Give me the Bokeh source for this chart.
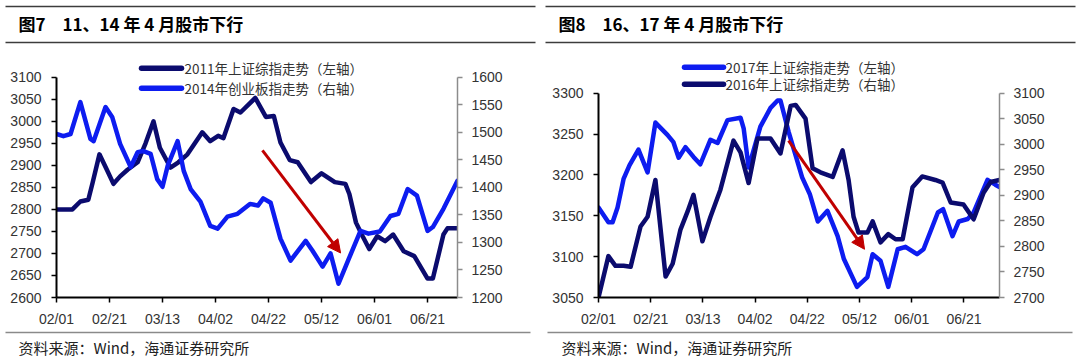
from bokeh.plotting import figure
from bokeh.models import Range1d, LinearAxis, FixedTicker, Arrow, NormalHead
from bokeh.layouts import row, column
from bokeh.embed import file_html
from bokeh.resources import INLINE
from bokeh.core.properties import value

# ---------------- data ----------------
tick_days = [0, 20, 40, 60, 80, 100, 120, 140]
tick_labels = ["02/01", "02/21", "03/13", "04/02", "04/22", "05/12", "06/01", "06/21"]

# Figure 7 : 2011 SSE composite (left axis), 2014 ChiNext (right axis); x = days since 02/01
sh2011_day = [0, 4, 6, 9, 12, 13.6, 16.2, 19, 21.5, 24, 26.8, 30.6, 33.6, 36.6, 39, 43, 46, 49.4, 55, 58,
              61, 63, 66.8, 69.4, 75, 79, 82, 84.5, 88, 91, 96, 100, 105, 109, 110.5, 113, 115.5, 118,
              121, 124, 127, 131, 135, 140, 142, 146, 147.5, 151.3]
sh2011_val = [2800, 2800, 2800, 2818, 2822, 2860, 2925, 2890, 2858, 2875, 2890, 2907, 2950, 3000, 2940, 2895,
              2907, 2925, 2975, 2955, 2967, 2962, 3028, 3020, 3053, 3010, 3012, 2952, 2912, 2907, 2862, 2882,
              2862, 2858, 2835, 2770, 2739, 2710, 2739, 2728, 2743, 2705, 2694, 2643, 2643, 2743, 2757, 2757]
cyb2014_day = [0, 2.6, 5.3, 9, 12.8, 14, 18.5, 21, 24, 28, 30.6, 32.8, 35.5, 38, 40, 42, 45.7, 48, 50.6,
               54.3, 58, 60.8, 64.5, 68.3, 73, 76, 78, 80.8, 84.5, 88.3, 94, 96.6, 100.4, 103.4, 106.4, 110,
               114.7, 117.7, 122, 126, 129, 132.5, 136, 140, 142, 146, 151.3]
cyb2014_val = [1497, 1493, 1497, 1555, 1488, 1484, 1546, 1528, 1479, 1437, 1464, 1466, 1461, 1415, 1401,
               1440, 1484, 1430, 1397, 1374, 1330, 1325, 1347, 1352, 1370, 1367, 1380, 1372, 1307, 1267,
               1303, 1285, 1256, 1280, 1225, 1267, 1321, 1316, 1320, 1348, 1352, 1397, 1385, 1321, 1328,
               1361, 1412]

# Figure 8 : 2017 SSE composite (left axis), 2016 SSE composite (right axis)
sh2017_day = [0, 3.8, 5.4, 7.3, 9.6, 11.9, 15.3, 18.8, 21.8, 26.4, 28.7, 30.7, 33.3, 36.4, 39, 42.9, 45.6,
              49.4, 54.4, 55.6, 57.5, 62, 65.9, 68.6, 69.7, 72.8, 78, 81, 84, 87.7, 91.6, 94, 99, 103, 105,
              108, 111, 114.6, 117.6, 122, 124.5, 130, 132, 135.6, 138, 141.4, 143.7, 149, 152, 153.6]
sh2017_val = [3160, 3142, 3142, 3160, 3195, 3212, 3231, 3203, 3264, 3249, 3240, 3221, 3234, 3222, 3213,
              3243, 3239, 3267, 3270, 3257, 3209, 3259, 3282, 3291, 3291, 3253, 3197, 3176, 3143, 3156,
              3125, 3097, 3063, 3075, 3103, 3095, 3063, 3109, 3112, 3103, 3109, 3154, 3158, 3125, 3143,
              3146, 3154, 3194, 3188, 3185]
sh2016_day = [0, 3.8, 6.5, 9.6, 12.3, 16.1, 18.8, 21.8, 25.7, 28.4, 31.4, 34.1, 36.4, 39.8, 42.9, 46.7,
              51.7, 54.4, 57.5, 60.9, 65.9, 69.7, 73.6, 75.5, 79.3, 82, 85, 89.7, 93.5, 95.8, 97.7, 99.6,
              103, 105, 108, 111, 113.8, 116.5, 120.3, 124, 129, 131.8, 134.9, 139.8, 143.7, 147.5, 150.2,
              153.6]
sh2016_val = [2700, 2781, 2762, 2762, 2760, 2839, 2858, 2930, 2741, 2766, 2833, 2868, 2901, 2810, 2858,
              2911, 3007, 2984, 2924, 3011, 3011, 2982, 3075, 3077, 3050, 2953, 2945, 2936, 2988, 2930,
              2858, 2827, 2827, 2849, 2808, 2824, 2814, 2814, 2916, 2937, 2930, 2925, 2886, 2882, 2853,
              2905, 2926, 2930]

# trend arrows (data coords on the left axis)
arrow7 = [77.7, 2934, 107.2, 2701]
arrow8 = [72.8, 3242, 101.9, 3109]

titles = ["图7\u300011、14 年 4 月股市下行", "图8\u300016、17 年 4 月股市下行"]
source_text = "资料来源：Wind，海通证券研究所"
legend7 = ["2011年上证综指走势（左轴）", "2014年创业板指走势（右轴）"]
legend8 = ["2017年上证综指走势（左轴）", "2016年上证综指走势（右轴）"]

NAVY = "#0b0b6e"
BLUE = "#0d1cf0"
RED = "#c00000"
CJK = "Noto Sans CJK SC"
LAT = "Liberation Sans"

HEAD_H = 48      # header strip height (page px)
FOOT_H = 30      # footer strip height
PAGE_H = 359
CHART_H = PAGE_H - HEAD_H - FOOT_H


def blank(width, height, y_top):
    p = figure(width=width, height=height, x_range=Range1d(0, width),
               y_range=Range1d(y_top + height, y_top), output_backend="svg",
               toolbar_location=None, min_border=0, x_axis_location=None, y_axis_location=None)
    p.grid.visible = False
    p.outline_line_color = None
    p.border_fill_color = "white"
    return p


def extend(lo, hi, px_lo, px_hi, frame_top):
    # value at frame_top when lo sits at px_lo and hi at px_hi (page px, y downward)
    return hi + (px_hi - frame_top) * (hi - lo) / (px_lo - px_hi)


def make_chart(ox, frame, x_end, yl, yr, ticks_l, ticks_r, series, legend, arrow):
    fl, fr, ft, fb = frame  # page px of the plotting area (ft = top of value axes)
    top = HEAD_H
    yl_hi = extend(yl[0], yl[1], fb, ft, top)
    yr_hi = extend(yr[0], yr[1], fb, ft, top)
    p = figure(width=540, height=CHART_H, x_range=Range1d(0, x_end), y_range=Range1d(yl[0], yl_hi),
               output_backend="svg", toolbar_location=None,
               min_border_left=fl - ox, min_border_right=ox + 540 - fr,
               min_border_top=0, min_border_bottom=HEAD_H + CHART_H - fb)
    p.extra_y_ranges = {"right": Range1d(yr[0], yr_hi), "py": Range1d(fb, top)}
    p.extra_x_ranges = {"px": Range1d(fl, fr)}
    p.grid.visible = False
    p.outline_line_color = None
    p.background_fill_color = "white"
    p.border_fill_color = "white"

    xa = p.xaxis[0]
    xa.ticker = FixedTicker(ticks=tick_days)
    xa.major_label_overrides = {d: l for d, l in zip(tick_days, tick_labels)}
    ya = p.yaxis[0]
    ya.ticker = FixedTicker(ticks=ticks_l)
    ya.bounds = (yl[0], yl[1])
    ra = LinearAxis(y_range_name="right", ticker=FixedTicker(ticks=ticks_r), bounds=(yr[0], yr[1]))
    p.add_layout(ra, "right")
    for ax in (xa, ya, ra):
        ax.axis_line_color = "black"
        ax.axis_line_width = 2
        ax.major_tick_line_color = "black"
        ax.major_tick_line_width = 1.5
        ax.major_tick_out = 5
        ax.major_tick_in = 0
        ax.minor_tick_line_color = None
        ax.major_label_text_font = LAT
        ax.major_label_text_font_size = "14px"
        ax.major_label_text_color = "#333333"
        ax.major_label_standoff = 10
    ra.axis_line_color = "#8c8c8c"
    ra.axis_line_width = 1.5
    ra.major_tick_line_color = "#8c8c8c"
    ra.major_label_standoff = 9
    xa.major_label_standoff = 8

    for days, vals, color, rng in series:
        kw = {} if rng is None else {"y_range_name": rng}
        p.line(days, vals, line_color=color, line_width=4.5, line_join="round", line_cap="round", **kw)

    p.add_layout(Arrow(x_start=arrow[0], y_start=arrow[1], x_end=arrow[2], y_end=arrow[3],
                       line_color=RED, line_width=3,
                       end=NormalHead(size=13, fill_color=RED, line_color=RED, line_width=1)))

    lx0, lx1, tx, rows = legend
    for (ly, txt, color) in rows:
        p.segment(x0=[lx0], y0=[ly], x1=[lx1], y1=[ly], x_range_name="px", y_range_name="py",
                  line_color=color, line_width=5.5, line_cap="round")
        p.text(x=[tx], y=[ly], text=[txt], x_range_name="px", y_range_name="py",
               text_font=value(CJK), text_font_size="13.5px", text_color="#333333",
               text_baseline="middle", text_align="left")
    return p


# header
head = blank(1080, HEAD_H, 0)
head.segment(x0=[5, 5, 545, 545], y0=[6, 42, 6, 42], x1=[535, 535, 1075, 1075], y1=[6, 42, 6, 42],
             line_color="#3c3c3c", line_width=1.3)
head.text(x=[18, 558], y=[23, 23], text=titles, text_font=value(CJK), text_font_style="bold",
          text_font_size="17px", text_color="black", text_baseline="middle", text_align="left")

# footer
foot_top = PAGE_H - FOOT_H
foot = blank(1080, FOOT_H, foot_top)
foot.segment(x0=[5, 547], y0=[332, 332], x1=[530, 1072], y1=[332, 332], line_color="#8a8a8a", line_width=1.5)
foot.text(x=[18, 561], y=[347, 347], text=[source_text, source_text], text_font=value(CJK),
          text_font_size="15px", text_color="#222222", text_baseline="middle", text_align="left")

p1 = make_chart(
    0, (56, 457, 77, 299), 151.3, (2600, 3100), (1200, 1600),
    list(range(2600, 3101, 50)), list(range(1200, 1601, 50)),
    [(sh2011_day, sh2011_val, NAVY, None), (cyb2014_day, cyb2014_val, BLUE, "right")],
    (141, 181, 184, [(68, legend7[0], NAVY), (88, legend7[1], BLUE)]),
    arrow7)

p2 = make_chart(
    540, (598, 999, 93, 299), 153.6, (3050, 3300), (2700, 3100),
    list(range(3050, 3301, 50)), list(range(2700, 3101, 50)),
    [(sh2017_day, sh2017_val, BLUE, None), (sh2016_day, sh2016_val, NAVY, "right")],
    (684, 723, 725, [(67, legend8[0], BLUE), (84, legend8[1], NAVY)]),
    arrow8)

layout = column(head, row(p1, p2, spacing=0), foot, spacing=0)
html = file_html(layout, INLINE)
html = html.replace("<head>", "<head><style>body{margin:0;}</style>", 1)
open("out.html", "w").write(html)
